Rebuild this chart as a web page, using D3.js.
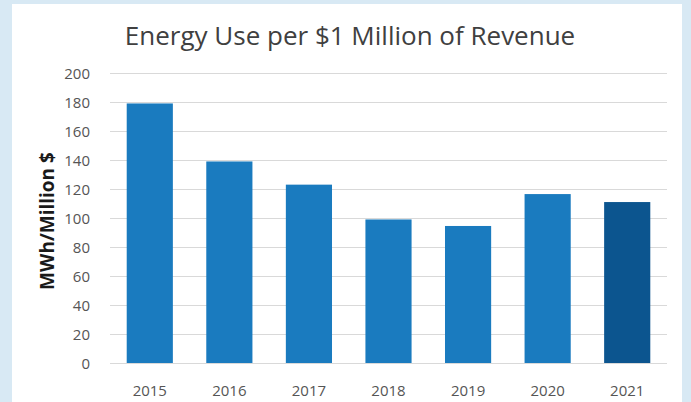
<!DOCTYPE html>
<meta charset="utf-8">
<title>Energy Use per $1 Million of Revenue</title>

<style>
body { margin: 0; background: #d8e9f4; }
.grid line { stroke: #d9d9d9; stroke-width: 1.2; }
.grid path { display: none; }
.axis path, .axis line { display: none; }
.axis text { font-family: "Open Sans", sans-serif; font-size: 15px; fill: #555555; }
</style>

<body>
<svg width="691" height="402"></svg>

<script src="https://d3js.org/d3.v7.min.js"></script>

<script>

var years = ["2015", "2016", "2017", "2018", "2019", "2020", "2021"];
var values = [179, 139, 123, 99, 94.5, 116.5, 111];
var yTicks = [0, 20, 40, 60, 80, 100, 120, 140, 160, 180, 200];

var svg = d3.select("svg");

// white panel inside the light blue frame
svg.append("rect")
    .attr("x", 12).attr("y", 4)
    .attr("width", 670).attr("height", 402)
    .attr("fill", "#ffffff");

var plot = {left: 110, right: 667, top: 73, bottom: 363};

var x = d3.scaleBand().domain(years).range([plot.left, plot.right]).paddingInner(0.42).paddingOuter(0.21),
    y = d3.scaleLinear().domain([0, 200]).range([plot.bottom, plot.top]);

svg.append("g")
    .attr("class", "grid")
    .attr("transform", "translate(" + plot.left + ",0)")
    .call(d3.axisLeft(y).tickValues(yTicks).tickSize(-(plot.right - plot.left)).tickFormat(""));

svg.selectAll(".bar")
  .data(values)
  .enter().append("rect")
    .attr("class", "bar")
    .attr("x", function(d, i) { return x(years[i]); })
    .attr("y", function(d) { return y(d); })
    .attr("width", x.bandwidth())
    .attr("height", function(d) { return plot.bottom - y(d); })
    .attr("fill", function(d, i) { return i == years.length - 1 ? "#0c558f" : "#1a7bbf"; });

svg.append("g")
    .attr("class", "axis")
    .attr("transform", "translate(" + (plot.left - 17) + ",0)")
    .call(d3.axisLeft(y).tickValues(yTicks).tickSize(0))
    .selectAll("text").attr("dy", "0.35em");

svg.append("g")
    .attr("class", "axis")
    .attr("transform", "translate(0," + (plot.bottom + 19) + ")")
    .call(d3.axisBottom(x).tickSize(0))
    .selectAll("text").attr("dy", "0.71em");

svg.append("text")
    .attr("x", 350).attr("y", 45)
    .attr("text-anchor", "middle")
    .style("font-family", "Open Sans, sans-serif")
    .style("font-size", "26px")
    .style("fill", "#404040")
    .text("Energy Use per $1 Million of Revenue");

svg.append("text")
    .attr("transform", "translate(54,221) rotate(-90)")
    .attr("text-anchor", "middle")
    .style("font-family", "Open Sans, sans-serif")
    .style("font-size", "19px")
    .style("font-weight", "bold")
    .style("fill", "#1a1a1a")
    .text("MWh/Million $");

</script>
</body>
